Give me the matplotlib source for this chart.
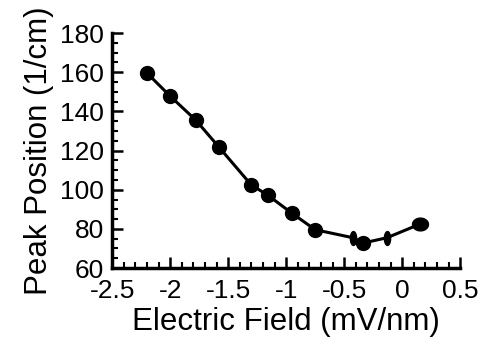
import numpy as np
import matplotlib.pyplot as plt

plt.rcParams['font.family'] = ['Liberation Sans', 'DejaVu Sans']

# peak position vs. field
field = [-2.2, -2.0, -1.78, -1.58, -1.3, -1.16, -0.95, -0.75, -0.425, -0.335, -0.13, 0.155]
peak = [159.6, 147.8, 135.6, 121.8, 102.4, 97.3, 88.0, 79.6, 75.5, 72.8, 75.5, 82.5]
# marker shape: 'o' round, 'n' narrow upright, 'w' wide
shape = ['o', 'o', 'o', 'o', 'o', 'o', 'o', 'o', 'n', 'o', 'n', 'w']

xticks = [-2.5, -2, -1.5, -1, -0.5, 0, 0.5]
xticklabels = ['-2.5', '-2', '-1.5', '-1', '-0.5', '0', '0.5']
yticks = [60, 80, 100, 120, 140, 160, 180]


def ellipse(wx, wy):
    t = np.linspace(0, 2 * np.pi, 40)
    return list(zip(wx * np.cos(t), wy * np.sin(t)))


fig = plt.figure(figsize=(4.9, 3.45), dpi=100)
ax = fig.add_axes([0.229, 0.223, 0.710, 0.681])

ax.plot(field, peak, color='black', lw=2.2, zorder=2)

markers = {'o': ('o', 10), 'n': (ellipse(0.45, 1.0), 10), 'w': (ellipse(1.0, 0.8), 11.5)}
for k, (m, ms) in markers.items():
    xs = [x for x, s in zip(field, shape) if s == k]
    ys = [y for y, s in zip(peak, shape) if s == k]
    ax.plot(xs, ys, ls='none', marker=m, ms=ms, color='black', zorder=3)

ax.set_xlim(-2.5, 0.5)
ax.set_ylim(60, 180)
ax.set_xticks(xticks)
ax.set_xticklabels(xticklabels)
ax.set_yticks(yticks)
ax.set_xticks(np.arange(-2.5, 0.51, 0.1), minor=True)
ax.set_yticks(np.arange(60, 181, 5), minor=True)

for s in ['top', 'right']:
    ax.spines[s].set_visible(False)
for s in ['left', 'bottom']:
    ax.spines[s].set_linewidth(2.5)

ax.tick_params(which='major', direction='in', length=8, width=1.8, labelsize=19)
ax.tick_params(axis='x', which='major', pad=8)
ax.tick_params(axis='y', which='major', pad=6)
ax.tick_params(which='minor', direction='in', length=4.5, width=1.5)

ax.set_xlabel('Electric Field (mV/nm)', fontsize=22.5, labelpad=3)
ax.set_ylabel('Peak Position (1/cm)', fontsize=22.5, labelpad=4)

fig.savefig('out.png', dpi=100)
